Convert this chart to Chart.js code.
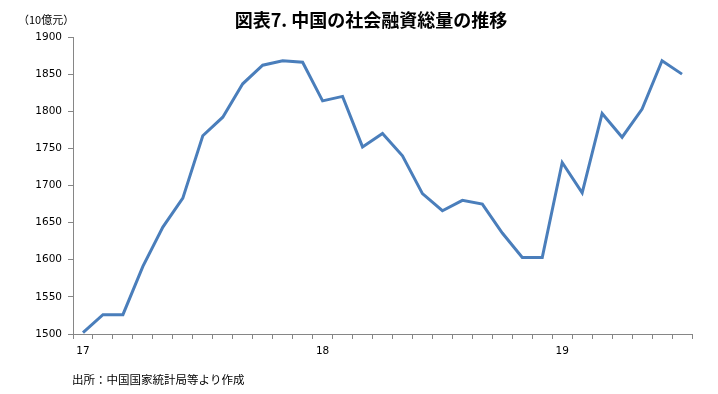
<!DOCTYPE html>
<html>
<head>
<meta charset="utf-8">
<script src="https://cdn.jsdelivr.net/npm/chart.js@4/dist/chart.umd.min.js"></script>
<style>
  html, body { margin: 0; padding: 0; background: #fff; }
  #wrap { width: 718px; height: 394px; position: relative; }
</style>
</head>
<body>
<div id="wrap"><canvas id="mycanvas" width="718" height="394"></canvas></div>
<script>
// months Jan 2017 - Jul 2019
var months = ['17-01','17-02','17-03','17-04','17-05','17-06','17-07','17-08','17-09','17-10','17-11','17-12',
              '18-01','18-02','18-03','18-04','18-05','18-06','18-07','18-08','18-09','18-10','18-11','18-12',
              '19-01','19-02','19-03','19-04','19-05','19-06','19-07'];
var yearLabels = {0: '17', 12: '18', 24: '19'};
var totalFinancing = [1502, 1526, 1526, 1591, 1644, 1683, 1767, 1792, 1837, 1862, 1868, 1866,
                      1814, 1820, 1752, 1770, 1740, 1689, 1666, 1680, 1675, 1636, 1603, 1603,
                      1731, 1690, 1797, 1765, 1803, 1868, 1850];
var yMin = 1500, yMax = 1900, yStep = 50;

var titleText = '図表7. 中国の社会融資総量の推移';
var unitText = '（10億元）';
var sourceText = '出所：中国国家統計局等より作成';

var jp = '"Noto Sans CJK JP", "Noto Sans", sans-serif';
var axisColor = '#868686';

// titles and notes drawn on the canvas
var textPlugin = {
    id: 'texts',
    afterDraw: function(chart) {
        var c = chart.ctx;
        c.save();
        c.fillStyle = '#000';
        c.textBaseline = 'middle';
        c.font = 'bold 18px ' + jp;
        c.textAlign = 'center';
        c.fillText(titleText, 371, 20);
        c.font = '11px ' + jp;
        c.textAlign = 'left';
        c.fillText(unitText, 18, 20);
        c.font = '11.5px ' + jp;
        c.fillText(sourceText, 72, 380);
        c.restore();
    }
};

var ctx = document.getElementById('mycanvas');
var myChart = new Chart(ctx, {
    type: 'line',
    data: {
        labels: months,
        datasets: [{
            label: '社会融資総量',
            data: totalFinancing,
            borderColor: '#4A7EBB',
            backgroundColor: '#4A7EBB',
            borderWidth: 3,
            pointRadius: 0,
            tension: 0,
            fill: false
        }]
    },
    options: {
        responsive: false,
        animation: false,
        layout: { padding: { left: 0, top: 37, right: 26, bottom: 34 } },
        plugins: {
            legend: { display: false },
            title: { display: false },
            tooltip: { enabled: false }
        },
        scales: {
            x: {
                type: 'category',
                offset: true,
                afterFit: function(s) { s.height = 26; },
                grid: { display: true, offset: true, drawOnChartArea: false, drawTicks: true, tickLength: 5, color: axisColor },
                border: { color: axisColor, width: 1 },
                ticks: {
                    autoSkip: false,
                    maxRotation: 0,
                    padding: 6,
                    color: '#000',
                    font: { family: '"DejaVu Sans", sans-serif', size: 10.5 },
                    callback: function(v, i) { return yearLabels[i] || ''; }
                }
            },
            y: {
                min: yMin,
                max: yMax,
                afterFit: function(s) { s.width = 73; },
                grid: { display: true, drawOnChartArea: false, drawTicks: true, tickLength: 5, color: axisColor },
                border: { color: axisColor, width: 1 },
                ticks: {
                    stepSize: yStep,
                    padding: 6,
                    color: '#000',
                    font: { family: '"DejaVu Sans", sans-serif', size: 10.5 },
                    callback: function(v) { return String(v); }
                }
            }
        }
    },
    plugins: [textPlugin]
});
</script>
</body>
</html>
